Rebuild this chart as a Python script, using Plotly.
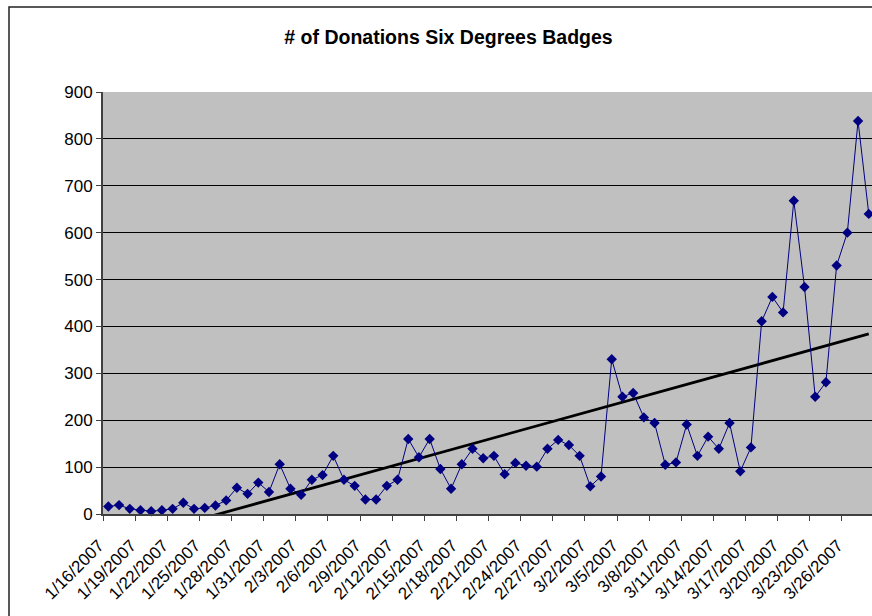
import numpy as np
import pandas as pd
import plotly.graph_objects as go

# Daily categories 1/16/2007 .. 3/28/2007
dates = pd.date_range("2007-01-16", "2007-03-28", freq="D")
date_labels = [f"{d.month}/{d.day}/{d.year}" for d in dates]

donations = [16, 19, 11, 8, 6, 8, 11, 24, 11, 13,
             18, 29, 56, 43, 67, 47, 106, 54, 41, 73,
             83, 124, 73, 60, 31, 31, 60, 73, 160, 121,
             160, 96, 54, 106, 139, 119, 124, 85, 109, 103,
             101, 139, 158, 147, 124, 59, 80, 330, 250, 258,
             206, 194, 105, 110, 191, 124, 165, 139, 194, 91,
             142, 411, 463, 430, 668, 484, 250, 281, 530, 600,
             838, 640]

tick_labels = date_labels[::3]
y_ticks = [0, 100, 200, 300, 400, 500, 600, 700, 800, 900]

idx = np.arange(len(donations))
slope, intercept = np.polyfit(idx, donations, 1)
trend = intercept + slope * idx

FONT = "Arial, Liberation Sans, sans-serif"
ML, MT, MB = 103, 92, 102
W, H = 872, 616
PW = W - ML
PH = H - MT - MB
PXDAY = 10.71

fig = go.Figure()
fig.add_trace(go.Scatter(
    x=idx, y=trend, mode="lines",
    line=dict(color="black", width=2.8),
    hoverinfo="skip", showlegend=False))
fig.add_trace(go.Scatter(
    x=idx, y=donations, mode="lines+markers",
    line=dict(color="#000080", width=1),
    marker=dict(symbol="diamond", size=8, color="#000080"),
    cliponaxis=False, showlegend=False))

fig.update_layout(
    width=W, height=H,
    margin=dict(l=ML, r=0, t=MT, b=MB, autoexpand=False),
    paper_bgcolor="white", plot_bgcolor="#C0C0C0",
    font=dict(family=FONT, size=17, color="black"),
    title=dict(text="<b># of Donations Six Degrees Badges</b>",
               font=dict(family=FONT, size=19.5, color="black"),
               x=448.5 / W, xref="container", xanchor="center",
               y=1 - 37 / H, yref="container", yanchor="middle"),
    xaxis=dict(range=[-0.5, -0.5 + PW / PXDAY], automargin=False,
               tickmode="array",
               tickvals=[i - 0.5 for i in range(0, len(date_labels), 3)],
               ticktext=tick_labels,
               tickangle=-45, ticks="outside", ticklen=5, tickcolor="#404040",
               ticklabelstandoff=8, ticklabelshift=-4,
               showgrid=False, zeroline=False,
               showline=True, linecolor="#404040", linewidth=2,
               tickfont=dict(size=17)),
    yaxis=dict(range=[0, 900], tickmode="array", tickvals=y_ticks, automargin=False,
               ticks="outside", ticklen=5, tickcolor="#404040",
               showgrid=True, gridcolor="black", gridwidth=1,
               zeroline=False, showline=True, linecolor="#404040", linewidth=2,
               tickfont=dict(size=17)),
)

# outer chart-area border
fig.add_shape(type="rect", xref="paper", yref="paper",
              x0=(9 - ML) / PW, x1=1.2,
              y0=-(MB + 30) / PH, y1=(PH + MT - 7) / PH,
              line=dict(color="#222", width=1.5), fillcolor="rgba(0,0,0,0)",
              layer="above")

fig.write_html("out.html",
               config={"displayModeBar": False},
               post_script="document.body.style.margin='0';"
                           "document.body.style.overflow='hidden';")
